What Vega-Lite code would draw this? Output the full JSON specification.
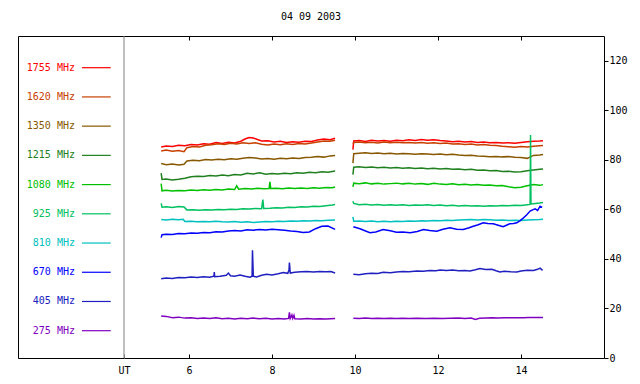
{
"$schema":"https://vega.github.io/schema/vega-lite/v6.json",
"width":586,"height":322,
"autosize":{"type":"none"},
"padding":{"left":18,"top":36,"right":36,"bottom":26},
"background":"white",
"title":{"text":"04 09 2003","font":"DejaVu Sans Mono","fontSize":10,"fontWeight":"normal","color":"#000","offset":6,"baseline":"alphabetic","anchor":"middle"},
"config":{"view":{"stroke":"#000","strokeWidth":1},"axis":{"labelFont":"DejaVu Sans Mono","labelFontSize":10,"labelColor":"#000","tickColor":"#000","domain":false,"grid":false,"title":null}},
"layer":[
{"resolve":{"scale":{"y":"independent"}},
 "layer":[
 {"data":{"values":[
 {"f":"1755","s":1,"t":[5.33,5.45,5.6,5.75,5.9,6.05,6.2,6.35,6.5,6.65,6.8,6.95,7.1,7.25,7.35,7.45,7.55,7.65,7.75,7.9,8.05,8.2,8.35,8.5,8.65,8.8,8.95,9.1,9.25,9.4,9.52],"v":[85.2,85.6,85.4,85.9,85.7,86.2,86.0,86.5,86.3,87.0,86.6,87.1,86.8,87.5,88.4,89.0,88.8,88.2,87.6,87.7,87.2,87.5,87.0,87.3,87.1,87.5,87.4,88.0,88.4,88.1,88.7]},
 {"f":"1755","s":2,"t":[9.95,9.97,10.1,10.25,10.4,10.55,10.7,10.85,11.0,11.15,11.3,11.45,11.6,11.75,11.9,12.05,12.2,12.35,12.5,12.65,12.8,12.95,13.1,13.25,13.4,13.55,13.7,13.85,14.0,14.15,14.3,14.45,14.53],"v":[84.1,87.6,87.8,87.4,87.9,87.6,87.8,87.5,87.9,87.7,88.1,87.8,88.2,87.9,88.1,87.8,87.6,87.3,87.5,87.2,87.4,87.0,87.2,86.9,87.0,86.8,86.9,86.7,87.0,87.3,87.5,87.6,87.7]},
 {"f":"1620","s":1,"t":[5.33,5.45,5.6,5.75,5.88,5.95,6.1,6.25,6.4,6.55,6.7,6.85,7.0,7.15,7.3,7.45,7.6,7.75,7.9,8.05,8.2,8.35,8.5,8.65,8.8,8.95,9.1,9.25,9.4,9.52],"v":[83.6,84.0,83.5,83.8,83.3,84.9,85.4,85.2,85.9,86.1,86.5,86.2,86.7,86.4,86.9,86.6,86.9,86.3,86.0,86.4,86.1,86.5,86.2,86.6,86.4,86.8,87.2,87.6,87.5,87.9]},
 {"f":"1620","s":2,"t":[9.95,9.97,10.1,10.25,10.4,10.55,10.7,10.85,11.0,11.15,11.3,11.45,11.6,11.75,11.9,12.05,12.2,12.35,12.5,12.65,12.8,12.95,13.1,13.25,13.4,13.55,13.7,13.85,14.0,14.15,14.3,14.45,14.53],"v":[86.5,87.0,87.2,86.9,87.1,86.8,87.2,86.9,87.1,86.9,87.0,86.8,87.0,86.7,86.9,86.6,86.8,86.4,86.5,86.2,86.4,86.0,86.2,85.9,85.8,85.5,85.3,85.1,85.4,85.2,85.5,85.7,85.8]},
 {"f":"1350","s":1,"t":[5.33,5.45,5.6,5.75,5.88,5.95,6.1,6.25,6.4,6.55,6.7,6.85,7.0,7.15,7.3,7.45,7.6,7.75,7.9,8.05,8.2,8.35,8.5,8.65,8.8,8.95,9.1,9.25,9.4,9.52],"v":[78.5,78.0,78.3,77.9,78.2,79.5,79.8,79.6,80.1,79.9,80.2,80.0,80.4,80.2,80.6,80.9,80.7,80.3,80.5,80.2,80.6,80.4,80.7,80.5,80.9,81.0,81.3,81.1,81.6,81.8]},
 {"f":"1350","s":2,"t":[9.95,9.97,10.1,10.25,10.4,10.55,10.7,10.85,11.0,11.15,11.3,11.45,11.6,11.75,11.9,12.05,12.2,12.35,12.5,12.65,12.8,12.95,13.1,13.25,13.4,13.55,13.7,13.85,14.0,14.15,14.3,14.45,14.53],"v":[78.7,82.5,82.7,82.9,82.6,82.8,82.5,82.7,82.4,82.6,82.5,82.3,82.5,82.4,82.2,82.4,82.1,82.3,82.0,81.8,81.9,81.6,81.5,81.3,81.4,81.2,81.3,81.0,80.9,80.6,81.8,82.0,82.2]},
 {"f":"1215","s":1,"t":[5.33,5.35,5.45,5.6,5.75,5.9,6.05,6.2,6.35,6.5,6.65,6.8,6.95,7.1,7.25,7.4,7.55,7.7,7.85,8.0,8.15,8.3,8.45,8.6,8.75,8.9,9.05,9.2,9.35,9.52],"v":[74.6,72.1,72.3,71.9,72.2,72.6,73.2,73.4,73.3,73.7,73.5,73.9,73.6,74.1,73.9,74.6,74.3,74.8,74.2,74.5,74.3,74.6,74.4,74.8,74.6,75.0,74.8,75.2,75.0,75.5]},
 {"f":"1215","s":2,"t":[9.95,9.97,10.1,10.25,10.4,10.55,10.7,10.85,11.0,11.15,11.3,11.45,11.6,11.75,11.9,12.05,12.2,12.35,12.5,12.65,12.8,12.95,13.1,13.25,13.4,13.55,13.7,13.85,14.0,14.15,14.3,14.45,14.53],"v":[74.0,77.0,77.2,76.9,77.1,76.8,77.0,76.7,76.9,76.6,76.8,76.5,76.7,76.4,76.6,76.3,76.5,76.2,76.3,76.0,76.2,75.8,75.9,75.6,75.7,75.3,75.4,75.1,75.2,75.6,75.9,76.2,76.3]},
 {"f":"1080","s":1,"t":[5.33,5.35,5.45,5.6,5.75,5.9,6.05,6.2,6.35,6.5,6.65,6.8,6.95,7.1,7.15,7.2,7.35,7.5,7.65,7.8,7.93,7.95,7.97,8.1,8.25,8.4,8.55,8.7,8.85,9.0,9.15,9.3,9.45,9.52],"v":[70.4,67.5,67.7,67.4,67.6,67.5,67.8,67.6,67.9,67.7,68.0,67.8,68.2,68.0,69.5,68.1,68.4,68.2,68.5,68.3,68.4,71.1,68.4,68.5,68.3,68.6,68.4,68.6,68.4,68.7,68.5,68.8,68.7,69.0]},
 {"f":"1080","s":2,"t":[9.95,9.97,10.1,10.25,10.4,10.55,10.7,10.85,11.0,11.15,11.3,11.45,11.6,11.75,11.9,12.05,12.2,12.35,12.5,12.65,12.8,12.95,13.1,13.25,13.4,13.55,13.7,13.85,14.0,14.15,14.3,14.45,14.53],"v":[69.1,70.6,70.4,70.7,70.3,70.5,70.2,70.4,70.6,70.3,70.5,70.2,70.4,70.1,70.5,70.2,70.0,70.3,69.9,70.1,69.8,70.0,69.7,69.8,69.5,69.6,69.1,68.7,68.9,69.5,70.0,69.7,70.0]},
 {"f":"925","s":1,"t":[5.33,5.35,5.45,5.6,5.75,5.88,5.95,6.1,6.25,6.4,6.55,6.7,6.85,7.0,7.15,7.3,7.45,7.6,7.75,7.78,7.8,7.95,8.1,8.25,8.4,8.55,8.7,8.85,9.0,9.15,9.3,9.45,9.52],"v":[62.4,60.9,61.1,60.8,61.2,61.0,59.8,59.9,59.7,59.9,59.8,60.0,59.9,60.1,60.0,60.3,60.2,60.4,60.3,64.0,60.4,60.5,60.7,60.6,60.9,60.8,61.1,61.0,61.3,61.2,61.5,61.8,62.0]},
 {"f":"925","s":2,"t":[9.95,9.97,10.1,10.25,10.4,10.55,10.7,10.85,11.0,11.15,11.3,11.45,11.6,11.75,11.9,12.05,12.2,12.35,12.5,12.65,12.8,12.95,13.1,13.25,13.4,13.55,13.7,13.85,14.0,14.15,14.22,14.23,14.24,14.35,14.45,14.53],"v":[63.3,62.4,61.9,62.1,61.8,62.0,61.7,61.9,61.7,61.9,61.6,61.8,61.7,61.9,61.6,61.8,61.5,61.7,61.4,61.6,61.4,61.5,61.3,61.5,61.4,61.6,61.5,61.7,61.6,61.9,62.0,90.0,62.2,62.4,62.6,62.8]},
 {"f":"810","s":1,"t":[5.33,5.45,5.6,5.75,5.86,5.9,6.05,6.2,6.35,6.5,6.65,6.8,6.95,7.1,7.25,7.4,7.55,7.7,7.85,8.0,8.15,8.3,8.45,8.6,8.75,8.9,9.05,9.2,9.35,9.52],"v":[55.9,55.7,56.0,55.8,56.0,55.1,55.2,55.0,55.1,55.0,55.2,55.0,54.9,55.1,54.8,55.0,54.7,54.9,55.1,55.0,55.2,55.1,55.3,55.2,55.4,55.3,55.5,55.4,55.6,55.7]},
 {"f":"810","s":2,"t":[9.95,9.97,10.1,10.25,10.4,10.55,10.7,10.85,11.0,11.15,11.3,11.45,11.6,11.75,11.9,12.05,12.2,12.35,12.5,12.65,12.8,12.95,13.1,13.25,13.4,13.55,13.7,13.85,14.0,14.15,14.3,14.45,14.53],"v":[57.0,55.2,55.3,55.1,55.3,55.0,55.2,55.0,55.2,55.1,55.3,55.2,55.4,55.3,55.5,55.4,55.6,55.5,55.7,55.8,55.9,55.7,55.9,55.8,55.6,55.7,55.5,55.6,55.5,55.7,55.8,55.9,56.0]},
 {"f":"670","s":1,"t":[5.33,5.35,5.45,5.6,5.75,5.9,6.05,6.2,6.35,6.5,6.65,6.8,6.95,7.1,7.25,7.4,7.55,7.7,7.85,8.0,8.15,8.3,8.45,8.6,8.75,8.9,9.05,9.2,9.35,9.52],"v":[48.6,49.8,50.0,49.9,50.3,50.2,50.5,50.4,50.7,50.6,51.0,50.9,51.3,51.5,51.3,51.8,51.6,51.9,51.7,52.0,51.8,51.6,51.3,51.1,50.7,50.9,52.2,53.2,53.3,51.9]},
 {"f":"670","s":2,"t":[9.96,10.04,10.12,10.24,10.36,10.5,10.68,10.85,11.0,11.15,11.33,11.5,11.65,11.8,11.97,12.12,12.29,12.45,12.61,12.75,12.85,12.97,13.09,13.2,13.33,13.45,13.57,13.65,13.73,13.82,13.9,13.98,14.06,14.14,14.22,14.28,14.34,14.4,14.46,14.51],"v":[53.0,52.6,52.2,51.4,50.6,50.9,51.9,51.4,50.8,50.9,50.6,51.1,51.9,51.5,51.2,52.0,52.6,52.0,51.9,52.6,53.2,53.8,54.6,54.3,54.2,53.6,53.0,53.6,54.2,54.3,54.6,55.5,56.6,57.8,59.3,59.8,60.2,59.6,61.3,60.8]},
 {"f":"405","s":1,"t":[5.33,5.45,5.6,5.75,5.9,6.05,6.2,6.35,6.5,6.6,6.61,6.62,6.75,6.9,6.95,7.0,7.1,7.23,7.35,7.47,7.52,7.53,7.55,7.63,7.75,7.87,8.0,8.15,8.27,8.38,8.41,8.42,8.44,8.55,8.7,8.84,9.0,9.15,9.3,9.42,9.52],"v":[32.0,32.3,32.1,32.5,32.4,32.7,32.5,32.8,32.6,33.0,34.7,32.8,33.0,33.4,34.3,33.2,33.0,33.5,33.0,32.6,33.0,43.5,33.0,32.7,33.4,33.8,33.5,34.0,34.5,34.2,35.5,38.5,34.3,34.6,34.8,34.9,34.7,34.9,34.8,34.9,34.3]},
 {"f":"405","s":2,"t":[9.96,10.1,10.25,10.4,10.55,10.68,10.85,11.0,11.15,11.3,11.49,11.65,11.8,11.95,12.05,12.2,12.35,12.5,12.65,12.77,12.9,13.01,13.15,13.3,13.4,13.49,13.6,13.75,13.9,14.0,14.15,14.3,14.4,14.46,14.52],"v":[33.8,33.6,34.0,34.2,34.1,34.6,34.4,34.7,34.9,34.8,35.1,35.0,35.3,35.2,35.5,35.3,35.5,35.2,35.3,35.1,35.6,36.1,35.7,35.8,35.2,34.7,35.0,34.8,34.7,35.1,35.4,35.3,35.8,36.3,35.4]},
 {"f":"275","s":1,"t":[5.33,5.45,5.6,5.75,5.9,6.05,6.2,6.35,6.5,6.65,6.8,6.95,7.1,7.25,7.4,7.55,7.7,7.85,8.0,8.15,8.3,8.4,8.42,8.44,8.48,8.5,8.53,8.55,8.7,8.85,9.0,9.15,9.3,9.52],"v":[17.0,16.8,16.3,16.5,16.1,16.2,15.9,16.1,15.9,16.2,15.8,16.0,15.7,16.0,15.8,16.1,15.8,16.0,15.7,15.9,15.7,16.0,18.4,16.0,17.4,16.0,17.2,15.8,15.7,15.9,15.7,15.8,15.7,15.9]},
 {"f":"275","s":2,"t":[9.96,10.1,10.25,10.4,10.55,10.7,10.85,11.0,11.15,11.3,11.5,11.7,11.9,12.1,12.3,12.5,12.65,12.8,12.9,13.0,13.15,13.3,13.45,13.6,13.75,13.9,14.05,14.2,14.35,14.53],"v":[16.0,15.9,16.1,15.9,16.0,15.9,16.0,15.9,16.0,15.9,16.0,15.9,16.0,15.9,16.0,16.1,15.9,16.1,15.6,16.0,16.1,16.2,16.1,16.2,16.3,16.2,16.3,16.4,16.4,16.4]}
 ]},
 "transform":[{"flatten":["t","v"]}],
 "mark":{"type":"line","strokeWidth":1.5},
 "encoding":{
  "x":{"field":"t","type":"quantitative","scale":{"domain":[1.88,16],"nice":false,"zero":false},
   "axis":{"orient":"bottom","offset":-4,"values":[4.434,6,8,10,12,14],"format":"d","labelExpr":"datum.value < 5 ? 'UT' : datum.label","tickSize":4,"tickColor":{"condition":{"test":"datum.value < 5","value":"#808080"},"value":"#000"},"labelPadding":7,"labelFlush":false,"labelOverlap":false}},
  "y":{"field":"v","type":"quantitative","scale":{"domain":[0,130],"nice":false,"zero":false},
   "axis":{"orient":"right","values":[0,20,40,60,80,100,120],"format":"d","tickSize":4,"labelPadding":1,"labelFlush":false,"labelOverlap":false}},
  "color":{"field":"f","type":"nominal","legend":null,"scale":{"domain":["1755","1620","1350","1215","1080","925","810","670","405","275"],"range":["#ff0000","#c84000","#885800","#208020","#00c000","#00c060","#00c0c0","#0000ff","#2020c0","#8000c0"]}},
  "detail":{"field":"s","type":"nominal"}
 }},
 {"data":{"values":[
  {"f":"1755","lab":"1755 MHz"},{"f":"1620","lab":"1620 MHz"},{"f":"1350","lab":"1350 MHz"},{"f":"1215","lab":"1215 MHz"},{"f":"1080","lab":"1080 MHz"},
  {"f":"925","lab":"925 MHz"},{"f":"810","lab":"810 MHz"},{"f":"670","lab":"670 MHz"},{"f":"405","lab":"405 MHz"},{"f":"275","lab":"275 MHz"}]},
  "encoding":{
   "y":{"field":"f","type":"ordinal","sort":["1755","1620","1350","1215","1080","925","810","670","405","275"],"scale":{"type":"point","range":[31.7,294.7],"padding":0},"axis":null},
   "color":{"field":"f","type":"nominal","legend":null}
  },
  "layer":[
   {"mark":{"type":"text","align":"right","baseline":"middle","font":"DejaVu Sans Mono","fontSize":10},
    "encoding":{"x":{"datum":3.253,"type":"quantitative"},"text":{"field":"lab"}}},
   {"mark":{"type":"rule","strokeWidth":1.2},
    "encoding":{"x":{"datum":3.422,"type":"quantitative"},"x2":{"datum":4.114}}}
  ]}
 ]},
{"data":{"values":[{"ut":4.434}]},
 "mark":{"type":"rule","color":"#808080","strokeWidth":1},
 "encoding":{"x":{"field":"ut","type":"quantitative","scale":{"domain":[1.88,16],"nice":false,"zero":false},
  "axis":{"orient":"top","offset":-4,"values":[6,8,10,12,14],"labels":false,"tickSize":4,"domain":false}}}}
],
"resolve":{"scale":{"x":"independent"}}
}
